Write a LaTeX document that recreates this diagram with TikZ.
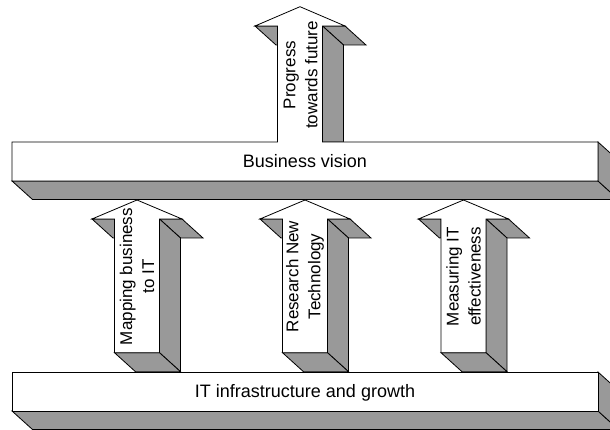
\documentclass[tikz,border=0pt]{standalone}
\usepackage{fontspec}
\setmainfont{Liberation Sans}
\definecolor{shade}{RGB}{153,153,153}
\tikzset{
  face/.style={draw=black, fill=white, line width=0.8pt, line join=miter},
  side/.style={draw=black, fill=shade, line width=0.8pt, line join=miter},
  lbl/.style={rotate=90, align=center, font=\fontsize{17}{22}\selectfont, inner sep=0pt},
  barlbl/.style={anchor=base, font=\fontsize{18}{20}\selectfont, inner sep=0pt}
}
\newcommand\upblock[1]{%
  \draw[side] ({#1-45},219) -- ({#1-22.5},219) -- ({#1-22.5},238) -- ({#1-24},238) -- cycle;
  \draw[side] ({#1+22.5},219) -- ({#1+45},219) -- ({#1+66},238) -- ({#1+43.5},238) -- cycle;
  \draw[side] ({#1+22.5},219) -- ({#1+43.5},238) -- ({#1+43.5},371.7) -- ({#1+22.5},352.7) -- cycle;
  \draw[side] ({#1-22.5},352.7) -- ({#1+22.5},352.7) -- ({#1+43.5},371.7) -- ({#1-1.5},371.7) -- cycle;
  \draw[face] (#1,200) -- ({#1+45},219) -- ({#1+22.5},219) -- ({#1+22.5},352.7)
     -- ({#1-22.5},352.7) -- ({#1-22.5},219) -- ({#1-45},219) -- cycle;
}
\begin{document}
\begin{tikzpicture}[x=1pt,y=-1pt]
\useasboundingbox (0,0) rectangle (610,430);
\clip (0,0) rectangle (610,430);
\fill[white] (0,0) rectangle (610,430);
% top bar with progress arrow
\draw[side] (12,181) -- (598,181) -- (618.5,199.5) -- (32.5,199.5) -- cycle;
\draw[side] (598,142) -- (618.5,160.5) -- (618.5,199.5) -- (598,181) -- cycle;
\draw[side] (255,26) -- (277.5,26) -- (277.5,45) -- (276,45) -- cycle;
\draw[side] (322.5,26) -- (345,26) -- (366,45) -- (343.5,45) -- cycle;
\draw[side] (322.5,26) -- (343.5,45) -- (343.5,142) -- (322.5,142) -- cycle;
\draw[face] (12,142) -- (277.5,142) -- (277.5,26) -- (255,26) -- (300,6.7) -- (345,26)
   -- (322.5,26) -- (322.5,142) -- (598,142) -- (598,181) -- (12,181) -- cycle;
\node[barlbl] (bv) at (305,167.5) {Business vision};
\node[lbl] (pf) at (300.5,75) {Progress\\towards future};
% three arrows
\upblock{137}
\upblock{305}
\upblock{463.5}
\node[lbl] (m1) at (137,276.5) {Mapping business\\to IT};
\node[lbl] (m2) at (305,276.5) {Research New\\Technology};
\node[lbl] (m3) at (463.5,276.5) {Measuring IT\\effectiveness};
% bottom bar
\draw[side] (12,411) -- (598,411) -- (618.5,429.5) -- (32.5,429.5) -- cycle;
\draw[side] (598,372) -- (618.5,390.5) -- (618.5,429.5) -- (598,411) -- cycle;
\draw[face] (12,372) rectangle (598,411);
\node[barlbl] (it) at (305,397.5) {IT infrastructure and growth};
\end{tikzpicture}
\end{document}
